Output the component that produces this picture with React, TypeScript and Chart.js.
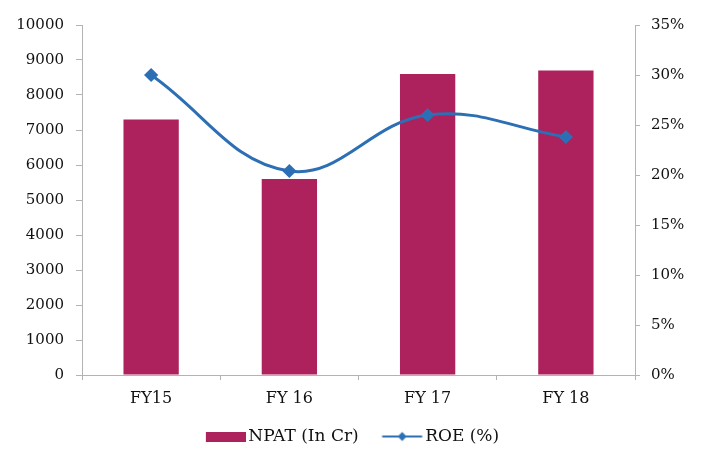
import React, { useEffect, useRef } from "react";
import { Chart, registerables } from "chart.js";

Chart.register(...registerables);

const categories = ["FY15", "FY 16", "FY 17", "FY 18"];
const npatValues = [7300, 5600, 8600, 8700];
const roeValues = [30, 20.4, 26, 23.8];
const npatLabel = "NPAT (In Cr)";
const roeLabel = "ROE (%)";

const BAR_COLOR = "#AD225C";
const LINE_COLOR = "#2C6FB4";
const AXIS_COLOR = "#B3B3B3";
const TEXT_COLOR = "#111111";
const FONT_FAMILY = "'DejaVu Serif', serif";

function makeBarIcon(): HTMLCanvasElement {
  const c = document.createElement("canvas");
  c.width = 44;
  c.height = 10;
  const ctx = c.getContext("2d")!;
  ctx.fillStyle = BAR_COLOR;
  ctx.fillRect(4, 0, 40, 10);
  return c;
}

function makeLineIcon(): HTMLCanvasElement {
  const c = document.createElement("canvas");
  c.width = 50;
  c.height = 12;
  const ctx = c.getContext("2d")!;
  ctx.strokeStyle = LINE_COLOR;
  ctx.lineWidth = 2;
  ctx.beginPath();
  ctx.moveTo(6.5, 6);
  ctx.lineTo(46.5, 6);
  ctx.stroke();
  ctx.fillStyle = LINE_COLOR;
  ctx.beginPath();
  ctx.moveTo(26.5, 1.5);
  ctx.lineTo(31, 6);
  ctx.lineTo(26.5, 10.5);
  ctx.lineTo(22, 6);
  ctx.closePath();
  ctx.fill();
  return c;
}

export default function App() {
  const canvasRef = useRef<HTMLCanvasElement | null>(null);

  useEffect(() => {
    if (!canvasRef.current) return;
    const barIcon = makeBarIcon();
    const lineIcon = makeLineIcon();
    const chart = new Chart(canvasRef.current, {
      type: "bar",
      data: {
        labels: categories,
        datasets: [
          {
            type: "line",
            label: roeLabel,
            data: roeValues,
            yAxisID: "y1",
            borderColor: LINE_COLOR,
            backgroundColor: LINE_COLOR,
            borderWidth: 3,
            pointStyle: "rectRot",
            pointRadius: 5,
            pointBackgroundColor: LINE_COLOR,
            pointBorderColor: LINE_COLOR,
            tension: 0.4,
            order: 0,
          } as any,
          {
            type: "bar",
            label: npatLabel,
            data: npatValues,
            yAxisID: "y",
            backgroundColor: BAR_COLOR,
            barPercentage: 0.4,
            categoryPercentage: 1,
            order: 1,
          } as any,
        ],
      },
      options: {
        responsive: false,
        animation: false,
        devicePixelRatio: 1,
        layout: { padding: { top: 25, left: 0, right: 0, bottom: 0 } },
        plugins: {
          tooltip: { enabled: false },
          legend: {
            position: "bottom",
            labels: {
              usePointStyle: true,
              pointStyleWidth: 32,
              boxHeight: 14,
              padding: 26,
              color: TEXT_COLOR,
              font: { family: FONT_FAMILY, size: 17 },
              generateLabels: () => [
                {
                  text: npatLabel,
                  pointStyle: barIcon as any,
                  fillStyle: BAR_COLOR,
                  strokeStyle: "transparent",
                  lineWidth: 0,
                  hidden: false,
                  datasetIndex: 1,
                  fontColor: TEXT_COLOR,
                },
                {
                  text: roeLabel,
                  pointStyle: lineIcon as any,
                  fillStyle: LINE_COLOR,
                  strokeStyle: "transparent",
                  lineWidth: 0,
                  hidden: false,
                  datasetIndex: 0,
                  fontColor: TEXT_COLOR,
                },
              ],
            },
          },
        },
        scales: {
          x: {
            afterFit: (s: any) => {
              s.height = 27;
              s._computeLabelArea = () => undefined;
            },
            grid: {
              display: true,
              drawOnChartArea: false,
              drawTicks: true,
              tickLength: 5,
              color: AXIS_COLOR,
            },
            border: { display: true, color: AXIS_COLOR },
            ticks: {
              color: TEXT_COLOR,
              padding: 9,
              font: { family: FONT_FAMILY, size: 16 },
            },
          },
          y: {
            position: "left",
            min: 0,
            max: 10000,
            afterFit: (s: any) => {
              s.width = 82;
            },
            grid: {
              display: true,
              drawOnChartArea: false,
              drawTicks: true,
              tickLength: 6,
              color: AXIS_COLOR,
            },
            border: { display: true, color: AXIS_COLOR },
            ticks: {
              stepSize: 1000,
              color: TEXT_COLOR,
              padding: 12,
              font: { family: FONT_FAMILY, size: 15 },
              callback: (v: any) => String(v),
            },
          },
          y1: {
            position: "right",
            min: 0,
            max: 35,
            afterFit: (s: any) => {
              s.width = 72;
            },
            grid: {
              display: true,
              drawOnChartArea: false,
              drawTicks: true,
              tickLength: 5,
              color: AXIS_COLOR,
            },
            border: { display: true, color: AXIS_COLOR },
            ticks: {
              stepSize: 5,
              color: TEXT_COLOR,
              padding: 11,
              font: { family: FONT_FAMILY, size: 15 },
              callback: (v: any) => `${v}%`,
            },
          },
        },
      },
    });
    return () => chart.destroy();
  }, []);

  return (
    <canvas
      ref={canvasRef}
      width={707}
      height={455}
      style={{ position: "absolute", left: 0, top: 0, display: "block" }}
    />
  );
}
